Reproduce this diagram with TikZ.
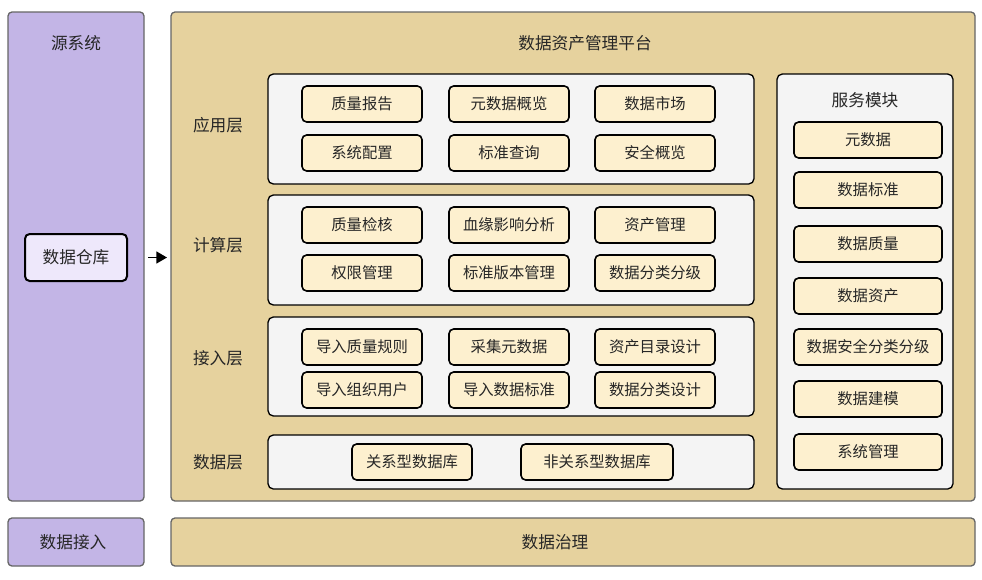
\documentclass[tikz,border=0pt]{standalone}
\usepackage{fontspec}
\setmainfont{Noto Sans CJK SC}
\usetikzlibrary{arrows.meta}
\definecolor{purp}{HTML}{C3B5E6}
\definecolor{lav}{HTML}{EEE8FB}
\definecolor{tan}{HTML}{E6D29E}
\definecolor{cream}{HTML}{FDF0CF}
\definecolor{lgray}{HTML}{F4F4F4}
\begin{document}
\begin{tikzpicture}[x=0.75pt,y=-0.75pt,
 panel/.style={draw=black!60,line width=1pt,rounded corners=3pt},
 layer/.style={draw=black,fill=lgray,line width=1pt,rounded corners=4pt},
 item/.style={draw=black,fill=cream,line width=1.2pt,rounded corners=3.5pt,font=\fontsize{11.5}{13}\selectfont,text=black!85,inner sep=0pt},
 lbl/.style={font=\fontsize{12.5}{14}\selectfont,text=black!85}]
\useasboundingbox (0,0) rectangle (982,579);
\draw[panel,fill=purp] (8,12) rectangle (144,501);
\node[lbl] (src) at (76,43) {源系统};
\node[item,fill=lav,minimum width=102pt*0.75,minimum height=47pt*0.75,line width=1.5pt,font=\fontsize{12.5}{14}\selectfont] (dw) at (76,257.5) {数据仓库};
\draw[panel,fill=tan] (171,12) rectangle (975,501);
\node[lbl] (plat) at (585,43) {数据资产管理平台};
\coordinate (ae) at (167,257.5);
\draw[-{Triangle[length=8pt,width=9pt]},line width=1.2pt] (148,257.5) -- (ae);
\draw[layer] (268,74) rectangle (754,184);
\draw[layer] (268,195) rectangle (754,305);
\draw[layer] (268,317) rectangle (754,416);
\draw[layer] (268,435) rectangle (754,489);
\draw[layer] (777,74) rectangle (953,489);
\node[lbl] at (218,125) {应用层};
\node[lbl] at (218,245) {计算层};
\node[lbl] at (218,358) {接入层};
\node[lbl] at (218,462) {数据层};
\node[lbl] at (865,100) {服务模块};
\tikzset{it/.style={item,minimum width=90pt,minimum height=27pt}}
\foreach \t/\x/\y [count=\i] in {质量报告/362/104,元数据概览/509/104,数据市场/655/104,
 系统配置/362/153,标准查询/509/153,安全概览/655/153,
 质量检核/362/225,血缘影响分析/509/225,资产管理/655/225,
 权限管理/362/273,标准版本管理/509/273,数据分类分级/655/273,
 导入质量规则/362/347,采集元数据/509/347,资产目录设计/655/347,
 导入组织用户/362/390,导入数据标准/509/390,数据分类设计/655/390}
 \node[it] (n\i) at (\x,\y) {\t};
\node[item,minimum width=90pt,minimum height=27pt] (r1) at (412,462) {关系型数据库};
\node[item,minimum width=114pt,minimum height=27pt] (r2) at (597,462) {非关系型数据库};
\foreach \t/\y [count=\i] in {元数据/140,数据标准/190,数据质量/244,数据资产/296,数据安全分类分级/347,数据建模/399,系统管理/452}
 \node[item,minimum width=111pt,minimum height=27pt] (s\i) at (868,\y) {\t};
\draw[panel,fill=purp] (8,518) rectangle (144,566);
\node[lbl] (di) at (73,542) {数据接入};
\draw[panel,fill=tan] (171,518) rectangle (975,566);
\node[lbl] (dg) at (555,542) {数据治理};
\end{tikzpicture}
\end{document}
